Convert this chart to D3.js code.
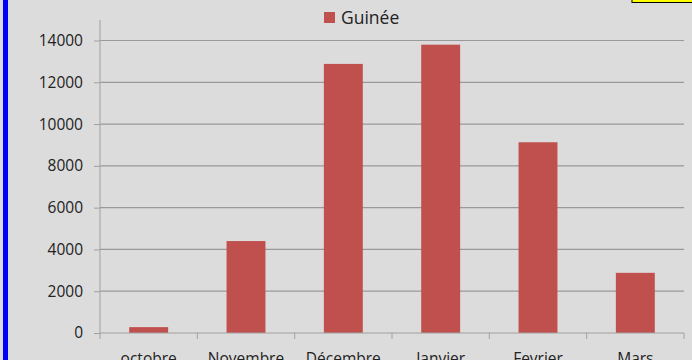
<!DOCTYPE html>
<html><head><meta charset="utf-8">
<script src="https://cdn.jsdelivr.net/npm/d3@7"></script>
<style>html,body{margin:0;padding:0;background:#dcdcdc;overflow:hidden}</style>
</head><body>
<svg id="c" width="692" height="360"></svg>
<script>
const categories = ["octobre","Novembre","Décembre","Janvier","Fevrier","Mars"];
const values = [280, 4400, 12880, 13800, 9130, 2880];
const yTicks = [0,2000,4000,6000,8000,10000,12000,14000];
const seriesName = "Guinée";

const svg = d3.select("#c");
svg.append("rect").attr("width",692).attr("height",360).attr("fill","#dcdcdc");
svg.append("rect").attr("x",3).attr("y",0).attr("width",5).attr("height",360).attr("fill","#0000ff");
svg.append("rect").attr("x",632).attr("y",-2).attr("width",62).attr("height",4.5).attr("fill","#ffff00").attr("stroke","#000").attr("stroke-width",1);

const x = d3.scaleBand().domain(categories).range([100,684]).paddingInner(0.6).paddingOuter(0.3);
const y = d3.scaleLinear().domain([0,14000]).range([333,40.5]);
const font = "'Open Sans', sans-serif";

// gridlines
svg.append("g").selectAll("line").data(yTicks.filter(d=>d>0)).join("line")
  .attr("x1",100).attr("x2",684).attr("y1",d=>y(d)).attr("y2",d=>y(d))
  .attr("stroke","#999").attr("stroke-width",1.2);

// bars
svg.append("g").selectAll("rect").data(values).join("rect")
  .attr("x",(d,i)=>x(categories[i])).attr("width",x.bandwidth())
  .attr("y",d=>y(d)).attr("height",d=>y(0)-y(d)).attr("fill","#c0504d");

// y axis
const ya = svg.append("g").attr("transform","translate(100,0)")
  .call(d3.axisLeft(y).tickValues(yTicks).tickSize(6).tickPadding(11).tickFormat(d3.format("d")));
ya.select(".domain").attr("stroke","#a0a0a0").attr("d","M0,20V333");
ya.selectAll(".tick line").attr("stroke","#a0a0a0");
ya.selectAll("text").attr("font-family",font).attr("font-size",15.5).attr("fill","#222");

// x axis
const xa = svg.append("g").attr("transform","translate(0,333)")
  .call(d3.axisBottom(x).tickSize(0).tickPadding(20));
xa.select(".domain").attr("stroke","#a0a0a0").attr("d","M100,0H684");
xa.selectAll("text").attr("font-family",font).attr("font-size",15.5).attr("fill","#222");
xa.append("g").selectAll("line").data(d3.range(categories.length+1)).join("line")
  .attr("x1",i=>100+i*(584/6)).attr("x2",i=>100+i*(584/6)).attr("y1",0).attr("y2",6)
  .attr("stroke","#a0a0a0");

// legend
svg.append("rect").attr("x",324).attr("y",12).attr("width",11).attr("height",11).attr("fill","#c0504d");
svg.append("text").attr("x",341).attr("y",24).attr("font-family",font).attr("font-size",17.5).attr("fill","#222").text(seriesName);
</script>
</body></html>
